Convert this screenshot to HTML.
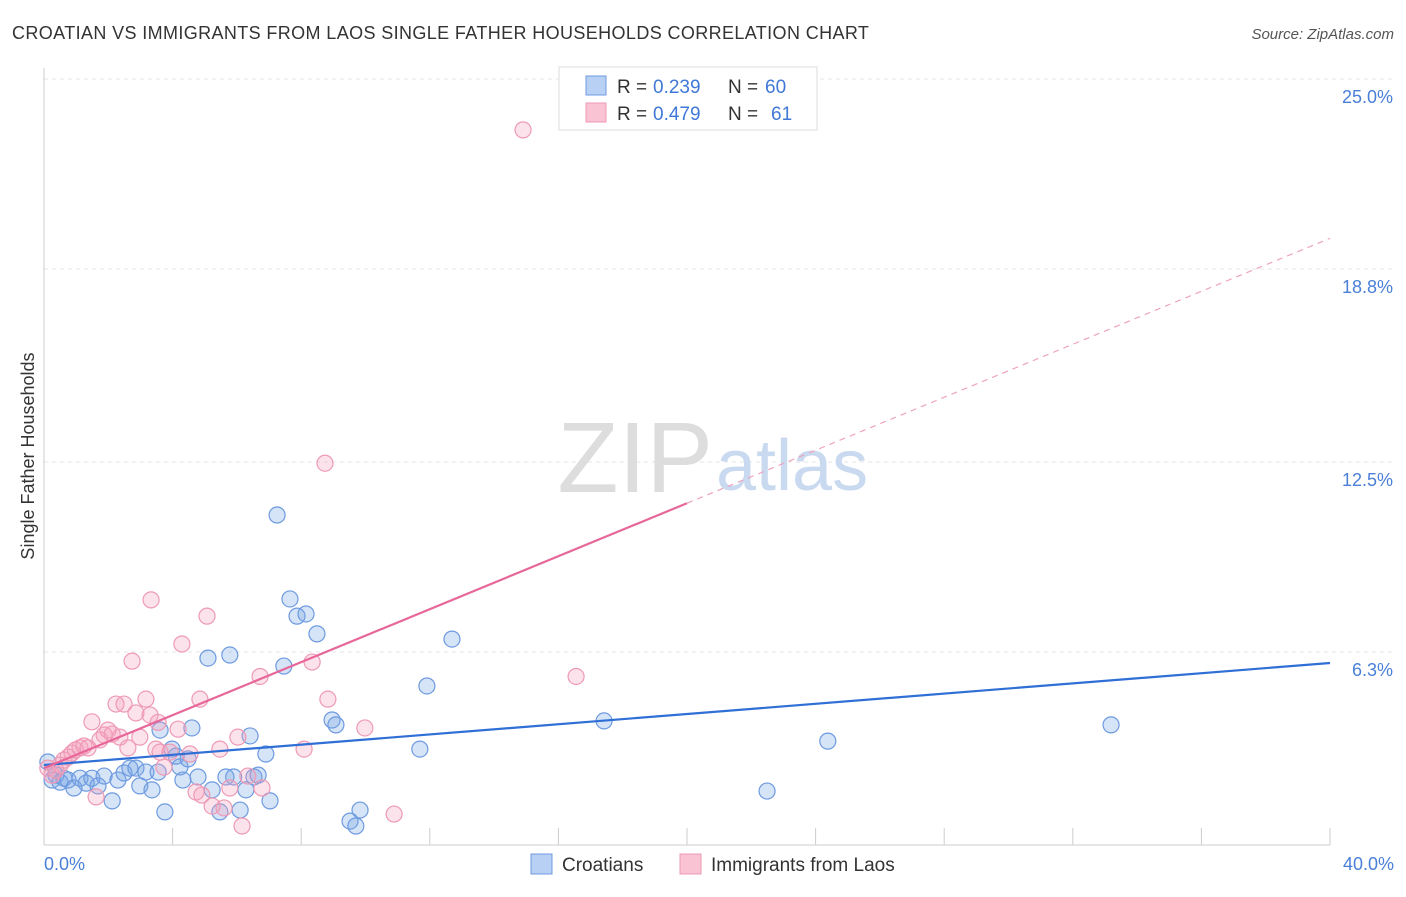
<!DOCTYPE html>
<html><head><meta charset="utf-8"><style>
body{margin:0;background:#fff;font-family:"Liberation Sans",sans-serif;}
svg text{font-family:"Liberation Sans",sans-serif;}
</style></head><body>
<svg id="chart" width="1406" height="892">
<text x="12" y="39" font-size="18" fill="#333" letter-spacing="0.38">CROATIAN VS IMMIGRANTS FROM LAOS SINGLE FATHER HOUSEHOLDS CORRELATION CHART</text>
<text x="1394" y="39" font-size="15" fill="#555" font-style="italic" text-anchor="end">Source: ZipAtlas.com</text>
<g id="grid"></g>
<text x="713" y="492" font-size="100" fill="#ddd" font-family="Liberation Serif" text-anchor="end">ZIP</text>
<text x="716" y="490" font-size="72" fill="#c9daf0">atlas</text>
<line x1="44" y1="68" x2="44" y2="845" stroke="#ccc"/>
<line x1="44" y1="845" x2="1330" y2="845" stroke="#ccc"/>
<g id="ticks"></g>
<text x="34" y="456" font-size="18" fill="#333" transform="rotate(-90 34 456)" text-anchor="middle">Single Father Households</text>
<text x="44" y="870" font-size="18" fill="#4a7fd8">0.0%</text>
<text x="1394" y="870" font-size="18" fill="#4a7fd8" text-anchor="end">40.0%</text>
<g id="pts"></g>
<g id="lines"></g>
<g>
<rect x="559" y="67" width="258" height="63" fill="#fff" stroke="#ddd"/>
<rect x="586" y="76" width="20" height="19" fill="#b8d0f3" stroke="#6d9ae0"/>
<rect x="586" y="103" width="20" height="19" fill="#f9c3d3" stroke="#ee9ab5"/>
<text y="93" font-size="19" fill="#333"><tspan x="617">R =</tspan><tspan x="653" fill="#3f78d6">0.239</tspan><tspan x="728">N =</tspan><tspan x="765" fill="#3f78d6">60</tspan></text>
<text y="120" font-size="19" fill="#333"><tspan x="617">R =</tspan><tspan x="653" fill="#3f78d6">0.479</tspan><tspan x="728">N =</tspan><tspan x="771" fill="#3f78d6">61</tspan></text>
</g>
<g>
<rect x="531" y="854" width="21" height="20" fill="#b8d0f3" stroke="#6d9ae0"/>
<text x="562" y="871" font-size="19" fill="#333">Croatians</text>
<rect x="680" y="854" width="21" height="20" fill="#f9c3d3" stroke="#ee9ab5"/>
<text x="711" y="871" font-size="19" fill="#333">Immigrants from Laos</text>
</g>
</svg>
<script>
const yTicks=[25.0,18.8,12.5,6.3];
const yTickLabels=["25.0%","18.8%","12.5%","6.3%"];
const xTicks=[4,8,12,16,20,24,28,32,36,40];
const croX=[0.12,0.25,0.37,0.5,0.62,0.75,0.93,1.12,1.31,1.49,1.68,1.87,2.12,2.3,2.49,2.67,2.86,2.98,3.17,3.36,3.55,3.61,3.76,3.98,4.11,4.23,4.32,4.48,4.6,4.79,5.1,5.23,5.47,5.66,5.78,5.9,6.1,6.28,6.41,6.53,6.66,6.9,7.03,7.25,7.46,7.65,7.87,8.15,8.49,8.96,9.08,9.52,9.7,9.83,11.69,11.91,12.69,17.42,22.49,24.38,33.19];
const croY=[2.71,2.12,2.28,2.05,2.18,2.12,1.86,2.18,2.02,2.18,1.93,2.25,1.44,2.12,2.35,2.51,2.51,1.93,2.38,1.8,2.38,3.75,1.08,3.13,2.9,2.55,2.12,2.81,3.82,2.22,6.1,1.8,1.08,2.22,6.2,2.22,1.14,1.8,3.56,2.22,2.28,2.97,1.44,10.77,5.84,8.03,7.47,7.54,6.89,4.08,3.92,0.78,0.62,1.14,3.13,5.19,6.72,4.05,1.76,3.39,3.92];
const laoX=[0.12,0.25,0.37,0.5,0.62,0.75,0.87,0.98,1.12,1.24,1.37,1.49,1.62,1.74,1.87,1.99,2.12,2.24,2.36,2.49,2.61,2.74,2.86,2.98,3.17,3.3,3.33,3.48,3.55,3.61,3.73,3.92,4.17,4.29,4.54,4.73,4.85,4.91,5.07,5.23,5.47,5.6,5.78,6.03,6.16,6.34,6.72,6.78,8.09,8.34,8.74,8.83,9.98,10.89,14.9,16.55];
const laoY=[2.51,2.28,2.44,2.61,2.77,2.87,3.0,3.1,3.17,3.23,3.17,4.02,1.57,3.43,3.59,3.75,3.62,4.6,3.52,4.6,3.17,6.0,4.31,3.52,4.76,4.24,8.0,3.13,4.0,3.03,2.54,3.03,3.78,6.56,2.97,1.73,4.76,1.63,7.47,1.27,3.13,1.21,1.86,3.52,0.62,2.25,5.5,1.86,3.13,5.97,12.46,4.76,3.82,1.01,23.34,5.5];
const croLine=[2.61,5.94];
const laoLine=[2.51,19.8];
const X=v=>44+v*32.15, Y=v=>845-v*30.64;
const ns="http://www.w3.org/2000/svg";
const mk=(t,a,p)=>{const e=document.createElementNS(ns,t);for(const k in a)e.setAttribute(k,a[k]);p.appendChild(e);return e;};
const grid=document.getElementById('grid');
yTicks.forEach((t,i)=>{
  const l=mk('line',{x1:44,x2:1394,y1:Y(t),y2:Y(t),stroke:'#e4e4e4','stroke-dasharray':'4,4'},grid);
  
  
  const tx=mk('text',{x:1393,y:Y(t)+24,'font-size':18,fill:'#4a7fd8','text-anchor':'end'},grid);
  tx.textContent=yTickLabels[i];
  
  
});
const tk=document.getElementById('ticks');
xTicks.forEach(t=>{
  const l=mk('line',{x1:X(t),x2:X(t),y1:828,y2:845,stroke:'#ccc'},tk);
  
  
});
const pts=document.getElementById('pts');
croX.forEach((x,i)=>{
  const c=mk('circle',{cx:X(x),cy:Y(croY[i]),r:8,fill:'rgba(120,165,230,0.3)',stroke:'#6d9ae0','stroke-width':1.2},pts);
  
  
});
laoX.forEach((x,i)=>{
  const c=mk('circle',{cx:X(x),cy:Y(laoY[i]),r:8,fill:'rgba(245,160,190,0.3)',stroke:'#ee9ab5','stroke-width':1.2},pts);
  
  
});
const lg=document.getElementById('lines');
const b=mk('line',{x1:X(0),y1:Y(croLine[0]),x2:X(40),y2:Y(croLine[1]),stroke:'#2f6fd6','stroke-width':2.2},lg);


const mid=20, ym=laoLine[0]+(laoLine[1]-laoLine[0])*mid/40;
const p1=mk('line',{x1:X(0),y1:Y(laoLine[0]),x2:X(mid),y2:Y(ym),stroke:'#e8679a','stroke-width':2.2},lg);


const p2=mk('line',{x1:X(mid),y1:Y(ym),x2:X(40),y2:Y(laoLine[1]),stroke:'#eea3bf','stroke-width':1.2,'stroke-dasharray':'6,5'},lg);


</script>
</body></html>
